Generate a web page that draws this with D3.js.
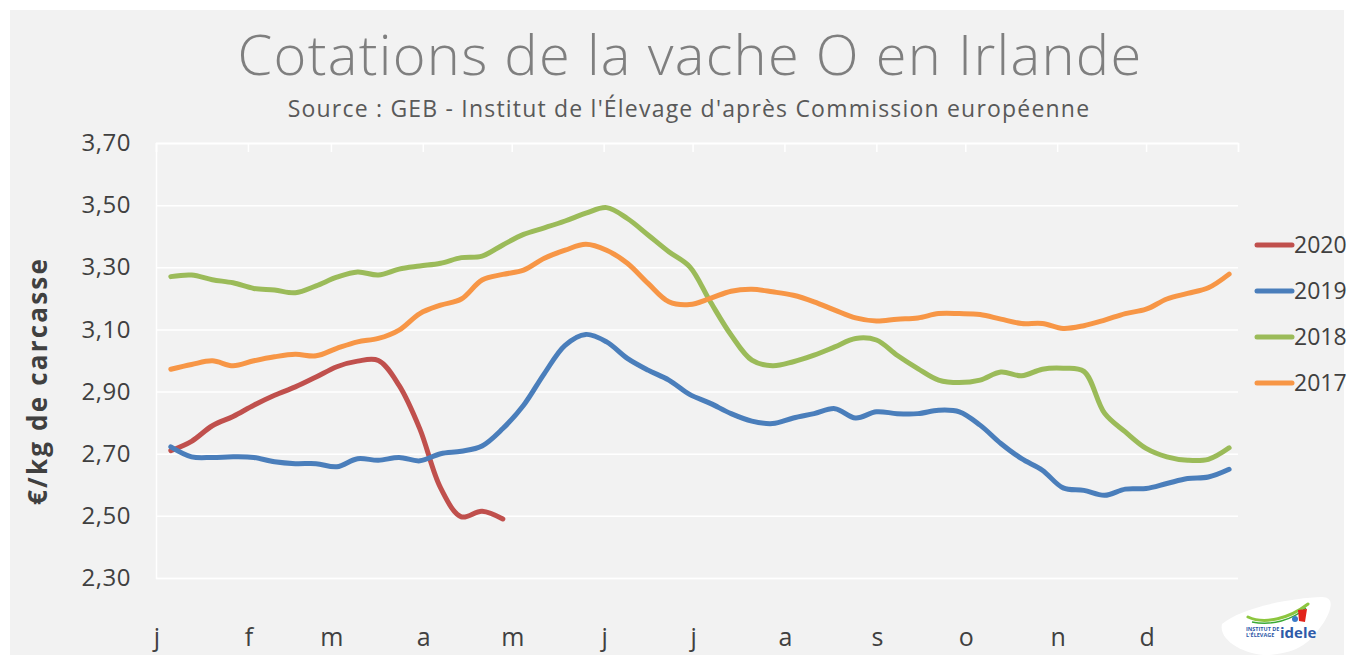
<!DOCTYPE html>
<html>
<head>
<meta charset="utf-8">
<title>Cotations de la vache O en Irlande</title>
<script src="https://cdn.jsdelivr.net/npm/d3@7"></script>
<style>
  html, body { margin: 0; padding: 0; background: #ffffff; }
  #chart-area { width: 1353px; height: 660px; }
  text { font-family: "Open Sans", "DejaVu Sans", sans-serif; }
</style>
</head>
<body>
<div id="chart-area"></div>
<script>

// Month initials (french) and weekly quotation dates
var months = ["j", "f", "m", "a", "m", "j", "j", "a", "s", "o", "n", "d"];

var weeks = ["01-06","01-13","01-20","01-27","02-03","02-10","02-17","02-24",
  "03-03","03-10","03-17","03-24","03-31","04-07","04-14","04-21","04-28",
  "05-05","05-12","05-19","05-26","06-02","06-09","06-16","06-23","06-30",
  "07-07","07-14","07-21","07-28","08-04","08-11","08-18","08-25",
  "09-01","09-08","09-15","09-22","09-29","10-06","10-13","10-20","10-27",
  "11-03","11-10","11-17","11-24","12-01","12-08","12-15","12-22","12-29"];

var yTicks = [2.30, 2.50, 2.70, 2.90, 3.10, 3.30, 3.50, 3.70];

// Prices in euro / kg carcass
var values2020 = [2.71, 2.74, 2.79, 2.82, 2.856, 2.888, 2.915, 2.947, 2.98, 2.998,
  3.0, 2.92, 2.78, 2.59, 2.497, 2.515, 2.49];

var values2019 = [2.722, 2.69, 2.688, 2.69, 2.688, 2.674, 2.668, 2.668, 2.658, 2.684,
  2.679, 2.688, 2.677, 2.70, 2.708, 2.725, 2.781, 2.856, 2.958, 3.049,
  3.084, 3.06, 3.007, 2.969, 2.937, 2.891, 2.862, 2.829, 2.805, 2.797,
  2.815, 2.829, 2.845, 2.815, 2.835, 2.829, 2.829, 2.84, 2.835, 2.792,
  2.733, 2.684, 2.647, 2.59, 2.582, 2.566, 2.586, 2.588, 2.604, 2.62,
  2.625, 2.65];

var values2018 = [3.27, 3.275, 3.26, 3.25, 3.232, 3.227, 3.218, 3.24, 3.268, 3.285,
  3.275, 3.294, 3.304, 3.313, 3.331, 3.336, 3.372, 3.406, 3.427, 3.449,
  3.474, 3.492, 3.457, 3.404, 3.35, 3.302, 3.189, 3.082, 3.001, 2.983,
  2.996, 3.017, 3.044, 3.071, 3.066, 3.017, 2.974, 2.937, 2.929, 2.937,
  2.963, 2.951, 2.972, 2.975, 2.965, 2.83, 2.77, 2.717, 2.69, 2.679,
  2.682, 2.719];

var values2017 = [2.972, 2.987, 2.999, 2.983, 2.999, 3.012, 3.02, 3.015, 3.039, 3.06,
  3.071, 3.098, 3.151, 3.178, 3.198, 3.259, 3.277, 3.291, 3.329, 3.355,
  3.374, 3.355, 3.313, 3.248, 3.189, 3.18, 3.20, 3.223, 3.229, 3.221,
  3.21, 3.189, 3.162, 3.137, 3.127, 3.133, 3.137, 3.151, 3.151, 3.148,
  3.133, 3.119, 3.119, 3.103, 3.112, 3.13, 3.151, 3.165, 3.198, 3.216,
  3.234, 3.278];

var seriesNames = ["2020", "2019", "2018", "2017"];
var seriesColors = ["#c0504d", "#4a7ebb", "#9bbb59", "#f79646"];


/*
 * PriceChart - Object constructor function
 * @param _parentElement  -- the HTML element in which to draw the chart
 */

PriceChart = function(_parentElement){
  this.parentElement = _parentElement;
  this.data = [values2020, values2019, values2018, values2017];
  this.displayData = [];

  this.initVis();
}


/*
 * Initialize visualization (static content; e.g. SVG area, axes)
 */

PriceChart.prototype.initVis = function(){
  var vis = this;

  vis.margin = { top: 143, right: 115, bottom: 82, left: 156 };

  vis.width = 1353 - vis.margin.left - vis.margin.right;
  vis.height = 660 - vis.margin.top - vis.margin.bottom;

  vis.root = d3.select("#" + vis.parentElement).append("svg")
    .attr("width", 1353)
    .attr("height", 660);

  // Grey panel
  vis.root.append("rect")
    .attr("x", 10)
    .attr("y", 10)
    .attr("width", 1334)
    .attr("height", 645)
    .attr("fill", "#f2f2f2");

  // Titles
  vis.root.append("text")
    .attr("x", 690)
    .attr("y", 75)
    .attr("text-anchor", "middle")
    .attr("font-size", 56)
    .attr("letter-spacing", 1.3)
    .attr("font-weight", 300)
    .attr("fill", "#7f7f7f")
    .text("Cotations de la vache O en Irlande");

  vis.root.append("text")
    .attr("x", 689)
    .attr("y", 117)
    .attr("text-anchor", "middle")
    .attr("font-size", 23)
    .attr("letter-spacing", 1.2)
    .attr("fill", "#595959")
    .text("Source : GEB - Institut de l'Élevage d'après Commission européenne");

  // Y axis title
  vis.root.append("text")
    .attr("transform", "translate(47,381) rotate(-90)")
    .attr("text-anchor", "middle")
    .attr("font-size", 26)
    .attr("letter-spacing", 2.2)
    .attr("font-weight", "bold")
    .attr("fill", "#404040")
    .text("€/kg de carcasse");

  vis.svg = vis.root.append("g")
    .attr("transform", "translate(" + vis.margin.left + "," + vis.margin.top + ")");

  // Scales and Axes
  vis.parseDay = d3.timeParse("%Y-%m-%d");

  vis.x = d3.scaleTime()
    .domain([vis.parseDay("2019-01-01"), vis.parseDay("2020-01-01")])
    .range([0, vis.width]);

  vis.y = d3.scaleLinear()
    .domain([2.30, 3.70])
    .range([vis.height, 0]);

  var locale = d3.formatLocale({ decimal: ",", thousands: " ", grouping: [3], currency: ["", " €"] });

  vis.yAxis = d3.axisLeft()
    .scale(vis.y)
    .tickValues(yTicks)
    .tickSize(-vis.width)
    .tickPadding(25)
    .tickFormat(locale.format(".2f"));

  vis.monthStarts = d3.timeMonth.range(vis.x.domain()[0], vis.x.domain()[1]);

  vis.xTicks = d3.axisBottom()
    .scale(vis.x)
    .tickValues(vis.monthStarts.concat([vis.x.domain()[1]]))
    .tickSize(9)
    .tickFormat("");

  vis.svg.append("g")
    .attr("class", "y-axis axis");

  vis.svg.append("g")
    .attr("class", "x-ticks axis");

  vis.svg.append("g")
    .attr("class", "x-labels");

  // Line
  vis.line = d3.line()
    .x(function(d){ return vis.x(d.date); })
    .y(function(d){ return vis.y(d.value); })
    .curve(d3.curveCatmullRom.alpha(0.5));

  vis.lines = vis.svg.append("g")
    .attr("class", "lines");

  vis.legend = vis.root.append("g")
    .attr("class", "legend")
    .attr("transform", "translate(1257,245)");

  vis.drawLogo();

  // (Filter, aggregate, modify data)
  vis.wrangleData();
}


/*
 * Data wrangling
 */

PriceChart.prototype.wrangleData = function(){
  var vis = this;

  vis.displayData = vis.data.map(function(values, i){
    return {
      name: seriesNames[i],
      color: seriesColors[i],
      points: values.map(function(v, j){
        return { date: vis.parseDay("2019-" + weeks[j]), value: v };
      })
    };
  });

  // Update the visualization
  vis.updateVis();
}


/*
 * The drawing function
 */

PriceChart.prototype.updateVis = function(){
  var vis = this;

  // Call axis functions
  vis.svg.select(".y-axis").call(vis.yAxis);
  vis.svg.select(".x-ticks").call(vis.xTicks);

  vis.svg.selectAll(".axis path, .axis line")
    .attr("stroke", "#ffffff")
    .attr("stroke-width", 1.5);

  vis.svg.select(".y-axis").selectAll("text")
    .attr("font-size", 24)
    .attr("letter-spacing", 0.5)
    .attr("fill", "#404040")
    .attr("font-family", "Open Sans, DejaVu Sans, sans-serif");

  // Month labels
  vis.svg.select(".x-labels").selectAll("text")
    .data(vis.monthStarts)
    .enter().append("text")
    .attr("x", function(d){ return vis.x(d) + 1; })
    .attr("y", vis.height + 68)
    .attr("text-anchor", "middle")
    .attr("font-size", 25)
    .attr("fill", "#404040")
    .text(function(d, i){ return months[i]; });

  // Draw lines (2020 first, 2017 on top)
  vis.lines.selectAll("path")
    .data(vis.displayData)
    .enter().append("path")
    .attr("d", function(d){ return vis.line(d.points); })
    .attr("fill", "none")
    .attr("stroke", function(d){ return d.color; })
    .attr("stroke-width", 5)
    .attr("stroke-linecap", "round")
    .attr("stroke-linejoin", "round");

  // Legend
  var item = vis.legend.selectAll("g")
    .data(vis.displayData)
    .enter().append("g")
    .attr("transform", function(d, i){ return "translate(0," + (i * 46) + ")"; });

  item.append("line")
    .attr("x1", 0)
    .attr("x2", 35)
    .attr("stroke", function(d){ return d.color; })
    .attr("stroke-width", 5)
    .attr("stroke-linecap", "round");

  item.append("text")
    .attr("x", 37)
    .attr("y", 8)
    .attr("font-size", 23)
    .attr("fill", "#404040")
    .text(function(d){ return d.name; });
}


/*
 * Small idele badge in the bottom right corner
 */

PriceChart.prototype.drawLogo = function(){
  var vis = this;

  var logo = vis.root.append("g")
    .attr("class", "logo");

  logo.append("path")
    .attr("d", "M1222,624 C1240,608 1290,598 1322,597 C1335,597 1332,610 1322,625 " +
      "C1310,642 1300,652 1270,655 C1245,656 1218,640 1222,624 Z")
    .attr("fill", "#ffffff");

  logo.append("path")
    .attr("d", "M1248,617 C1265,625 1290,618 1308,604")
    .attr("fill", "none")
    .attr("stroke", "#8dc63f")
    .attr("stroke-width", 3)
    .attr("stroke-linecap", "round");

  logo.append("path")
    .attr("d", "M1252,622 C1272,626 1292,620 1306,608")
    .attr("fill", "none")
    .attr("stroke", "#3aa935")
    .attr("stroke-width", 1.5);

  logo.append("path")
    .attr("d", "M1298,610 L1307,609 L1305,622 L1299,621 Z")
    .attr("fill", "#e2231a");

  logo.append("circle")
    .attr("cx", 1295)
    .attr("cy", 619)
    .attr("r", 3)
    .attr("fill", "#3a7bc8");

  logo.append("text")
    .attr("x", 1246)
    .attr("y", 631)
    .attr("font-size", 5.5)
    .attr("font-weight", "bold")
    .attr("fill", "#2e5aa8")
    .text("INSTITUT DE");

  logo.append("text")
    .attr("x", 1246)
    .attr("y", 637)
    .attr("font-size", 5.5)
    .attr("font-weight", "bold")
    .attr("fill", "#2e5aa8")
    .text("L'ÉLEVAGE");

  logo.append("text")
    .attr("x", 1280)
    .attr("y", 638)
    .attr("font-size", 15)
    .attr("font-weight", "bold")
    .attr("fill", "#2e5aa8")
    .text("idele");
}


var chart = new PriceChart("chart-area");

</script>
</body>
</html>
